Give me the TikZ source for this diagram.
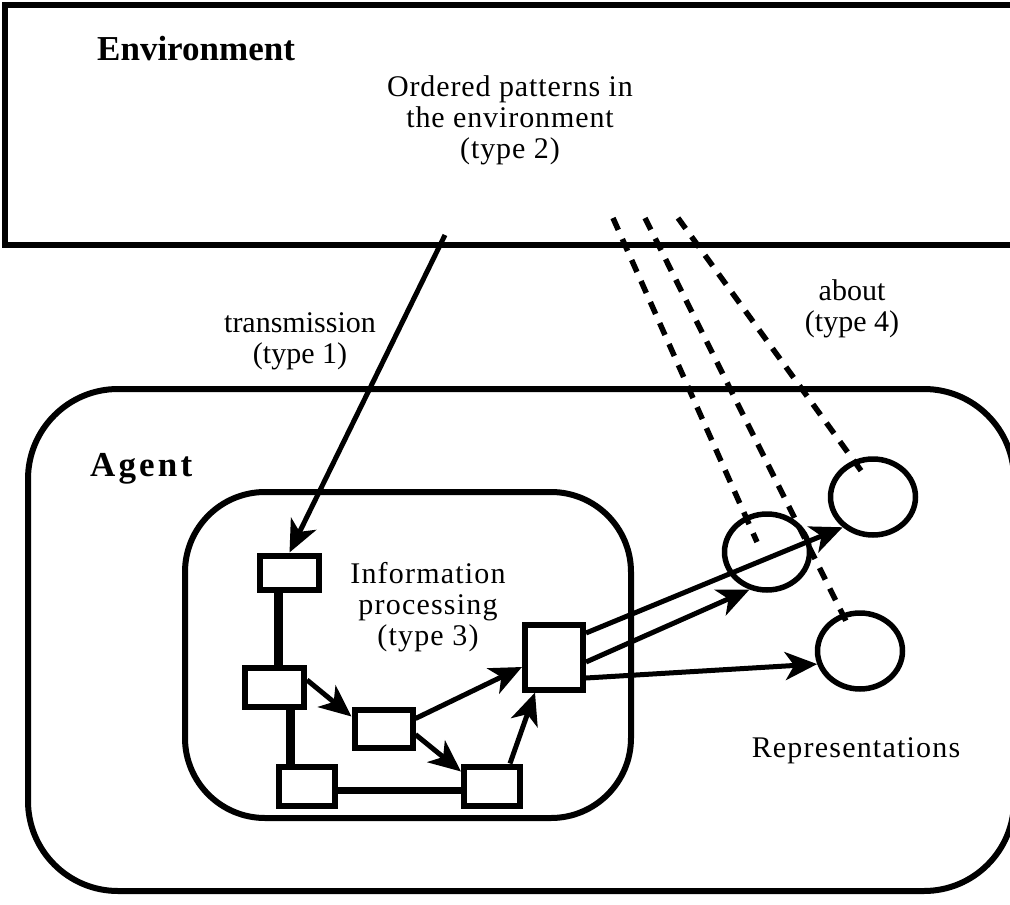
\documentclass[tikz,border=0pt]{standalone}
\usepackage{fontspec}
\setmainfont{Liberation Serif}
\usetikzlibrary{arrows.meta,calc,shapes.geometric}
\begin{document}
\begin{tikzpicture}[x=1pt,y=-1pt,
  box/.style={draw, line width=6pt, inner sep=0pt},
  circ/.style={draw, ellipse, line width=5.5pt, inner sep=0pt, minimum width=85pt, minimum height=76pt},
  arr/.style={line width=5pt, -{Stealth[length=32pt,width=28pt,inset=9pt]}},
  dsh/.style={line width=5.5pt, dash pattern=on 13pt off 10pt},
  link/.style={line width=9pt},
  frame/.style={line width=6pt},
  lbl/.style={font=\fontsize{30}{31}\selectfont, align=center, inner sep=0pt},
  ttl/.style={font=\fontsize{35}{40}\selectfont\bfseries, inner sep=0pt, anchor=base west}]
\useasboundingbox (0,0) rectangle (1010,905);
\clip (0,0) rectangle (1010,905);
% frames
\draw[frame] (5,5) rectangle (1040,245);
\draw[frame, rounded corners=90pt] (28,389) rectangle (1014,891);
\draw[frame, rounded corners=80pt] (185,492) rectangle (631,818);
% titles and labels
\node[ttl] (envt) at (97,60) {Environment};
\node[ttl] (agt) at (90,476) {\addfontfeature{LetterSpace=9}Agent};
\node[lbl] (ord) at (510,120) {\addfontfeature{LetterSpace=3}Ordered patterns in\\\addfontfeature{LetterSpace=3}the environment\\\addfontfeature{LetterSpace=3}(type 2)};
\node[lbl] (trl) at (300,341) {transmission\\(type 1)};
\node[lbl] (abl) at (852,309) {about\\(type 4)};
\node[lbl] (ipl) at (428,607) {\addfontfeature{LetterSpace=4}Information\\\addfontfeature{LetterSpace=4}processing\\\addfontfeature{LetterSpace=4}(type 3)};
\node[lbl] (repl) at (856,751) {\addfontfeature{LetterSpace=4}Representations};
% processing boxes
\node[box, minimum width=59pt, minimum height=34pt] (A) at (289.5,572.5) {};
\node[box, minimum width=59pt, minimum height=39pt] (B) at (274.5,687) {};
\node[box, minimum width=58pt, minimum height=38pt] (C) at (383.5,728.5) {};
\node[box, minimum width=56pt, minimum height=39pt] (D) at (307,786) {};
\node[box, minimum width=56pt, minimum height=39pt] (E) at (492,786) {};
\node[box, minimum width=58pt, minimum height=65pt] (F) at (554,657) {};
% representations
\node[circ] (c1) at (767,552) {};
\node[circ] (c2) at (873,497) {};
\node[circ] (c3) at (860,651) {};
% links
\draw[link] ([xshift=-11.5pt]A.south) -- ([xshift=3.5pt]B.north);
\draw[link] ([xshift=15.5pt]B.south) -- ([xshift=-17pt]D.north);
\draw[line width=7pt] ([yshift=-4pt]D.east) -- ([yshift=-4pt]E.west);
% arrows
\coordinate (ts) at (445,235);
\draw[arr] (ts) -- (A.north);
\draw[arr] ([yshift=7pt]B.east) -- ([yshift=-10pt]C.north west);
\draw[arr] ([yshift=-6pt]C.east) -- ([yshift=-8pt]E.north west);
\draw[arr] ([yshift=10pt]C.east) -- ([yshift=-10pt]F.west);
\draw[arr] ([xshift=18pt]E.north) -- ([xshift=-19pt]F.south);
\draw[arr] ([yshift=24pt]F.east) -- (c2.225);
\draw[arr] ([yshift=-5pt]F.east) -- (c1.245);
\draw[arr] ([yshift=-21pt]F.east) -- (c3.197);
% about (dashed)
\coordinate (d1s) at (613,218);
\coordinate (d2s) at (645,218);
\coordinate (d3s) at (678,218);
\coordinate (d1e) at (757,542);
\coordinate (d2e) at (848,625);
\coordinate (d3e) at (862,472);
\draw[dsh] (d1s) -- (d1e);
\draw[dsh] (d2s) -- (d2e);
\draw[dsh] (d3s) -- (d3e);
\end{tikzpicture}
\end{document}
